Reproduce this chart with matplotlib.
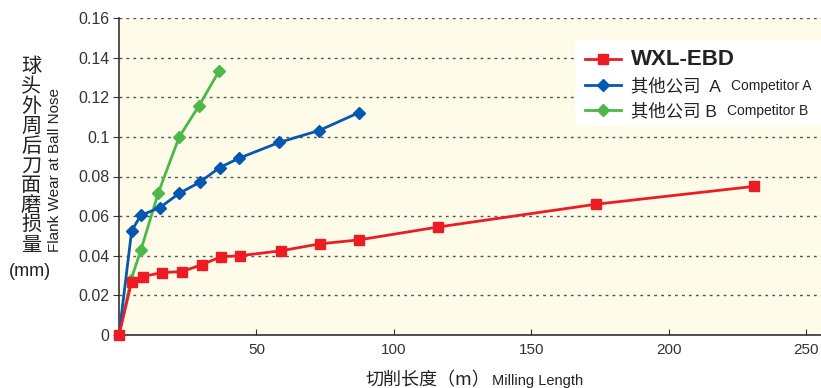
import matplotlib
matplotlib.use('Agg')
import matplotlib.pyplot as plt
import matplotlib.patches as patches
from matplotlib.ticker import FuncFormatter

plt.rcParams['font.family'] = ['Liberation Sans', 'Noto Sans CJK SC', 'DejaVu Sans']

# data
x_wxl = [0, 4.6, 8.7, 15.6, 22.9, 30.2, 37.1, 44.0, 59.0, 73.1, 87.3, 116.1, 173.6, 231.0]
y_wxl = [0, 0.027, 0.0295, 0.0315, 0.032, 0.0355, 0.0395, 0.040, 0.0425, 0.046, 0.048, 0.0545, 0.066, 0.075]

x_comp_a = [0, 4.6, 7.9, 14.9, 21.9, 29.4, 36.6, 43.8, 58.3, 72.8, 87.4]
y_comp_a = [0, 0.0525, 0.0604, 0.0643, 0.0715, 0.0771, 0.0845, 0.0893, 0.0972, 0.1032, 0.1123]

x_comp_b = [0, 4.4, 8.0, 14.3, 21.9, 29.1, 36.5]
y_comp_b = [0, 0.028, 0.043, 0.0718, 0.0999, 0.1157, 0.1334]

labels = ['WXL-EBD', '其他公司  A', '其他公司 B']
sub_labels = ['', 'Competitor A', 'Competitor B']
colors = ['#EC1C24', '#0558B0', '#4CB848']

fig = plt.figure(figsize=(8.21, 3.88), dpi=100)
ax = fig.add_axes([119 / 821, 53 / 388, 702 / 821, 317 / 388])
ax.set_facecolor('#FFFBE9')

l_b, = ax.plot(x_comp_b, y_comp_b, color=colors[2], lw=2, marker='D', ms=6, zorder=3)
l_a, = ax.plot(x_comp_a, y_comp_a, color=colors[1], lw=2, marker='D', ms=6, zorder=4)
l_w, = ax.plot(x_wxl, y_wxl, color=colors[0], lw=2, marker='s', ms=7, zorder=5, clip_on=False)

ax.set_xlim(0, 255.5)
ax.set_ylim(0, 0.16)
ax.set_xticks([50, 100, 150, 200, 250])
ax.set_yticks([0, 0.02, 0.04, 0.06, 0.08, 0.1, 0.12, 0.14, 0.16])
ax.yaxis.set_major_formatter(FuncFormatter(lambda v, p: '%g' % round(v, 2)))
ax.tick_params(axis='x', direction='in', length=4, labelsize=11, colors='#333333', pad=6)
ax.tick_params(axis='y', direction='out', length=4, labelsize=11.5, colors='#333333', pad=3)
for s in ['top', 'right']:
    ax.spines[s].set_visible(False)
for s in ['left', 'bottom']:
    ax.spines[s].set_color('#333333')
    ax.spines[s].set_linewidth(1.2)
ax.grid(axis='y', linestyle=(0, (2, 3)), color='#555555', lw=1)
ax.set_axisbelow(True)

# y axis labels
fig.text(31 / 821, 1 - 156 / 388, '\n'.join('球头外周后刀面磨损量'), ha='center', va='center',
         fontsize=14.5, linespacing=0.93, color='#222222', family=['Noto Sans CJK SC'])
fig.text(30 / 821, 1 - 272 / 388, '(mm)', ha='center', va='center', fontsize=13, color='#222222')
fig.text(55 / 821, 1 - 170 / 388, 'Flank Wear at Ball Nose', rotation=90, ha='center', va='center',
         fontsize=11, color='#222222')

# x axis label
fig.text(490 / 821, 1 - 380 / 388, '切削长度（m）', ha='right', va='center', fontsize=13,
         color='#222222', family=['Noto Sans CJK SC'])
fig.text(492 / 821, 1 - 381 / 388, 'Milling Length', ha='left', va='center', fontsize=10.5,
         color='#222222')

# legend
fig.patches.append(patches.Rectangle((575 / 821, 1 - 126 / 388), 246 / 821, 86 / 388,
                                     transform=fig.transFigure, facecolor='white',
                                     edgecolor='none', zorder=6))
leg = fig.legend([l_w, l_a, l_b], labels, loc='upper left', bbox_to_anchor=(578 / 821, 1 - 42 / 388),
                 frameon=False, handlelength=2.1, handletextpad=0.55, labelspacing=0.45,
                 borderaxespad=0, prop={'family': ['Liberation Sans', 'Noto Sans CJK SC'], 'size': 12.5})
leg.set_zorder(7)
texts = leg.get_texts()
texts[0].set_fontweight('bold')
texts[0].set_fontsize(16)
for t in texts:
    t.set_color('#222222')

fig.canvas.draw()
rend = fig.canvas.get_renderer()
inv = fig.transFigure.inverted()
for t, sub in zip(texts, sub_labels):
    if not sub:
        continue
    bb = t.get_window_extent(rend)
    x0, y0 = inv.transform((bb.x1 + 10, (bb.y0 + bb.y1) / 2))
    fig.text(x0, y0, sub, ha='left', va='center', fontsize=10, color='#222222', zorder=8)

fig.savefig('out.png', dpi=100)
